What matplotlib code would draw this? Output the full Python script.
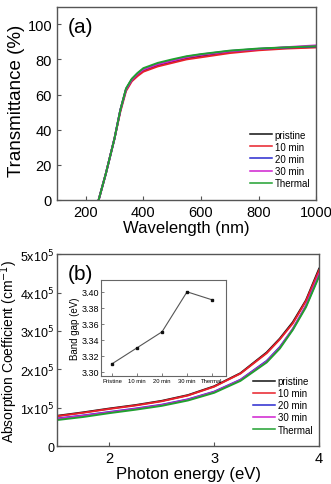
import matplotlib
matplotlib.use("Agg")
import matplotlib.pyplot as plt
from matplotlib.ticker import FuncFormatter, MultipleLocator

plt.rcParams['font.family'] = ['Liberation Sans', 'DejaVu Sans']

# series names and colours
labels = ["pristine", "10 min", "20 min", "30 min", "Thermal"]
colors = ["#111111", "#e8202a", "#2a2ad0", "#d020d0", "#20a030"]

# (a) transmittance
wavelength = [245, 270, 300, 320, 340, 360, 380, 400, 450, 500, 550, 600, 700, 800, 900, 1000]
trans_pristine = [0, 15, 35, 51, 63, 68.5, 71.5, 73.5, 76.5, 78.5, 80.5, 82.0, 84.3, 85.8, 86.6, 87.2]
trans_10 = [0, 15, 35, 50, 62, 67.5, 70.5, 73.0, 76.0, 78.0, 80.0, 81.2, 83.6, 85.2, 86.2, 86.8]
trans_20 = [0, 15, 35, 51, 63, 68.5, 72.0, 74.5, 77.5, 79.5, 81.5, 82.8, 84.8, 86.0, 86.8, 87.4]
trans_30 = [0, 15, 35, 51, 63, 68.5, 71.8, 74.2, 77.2, 79.2, 81.2, 82.5, 84.6, 85.9, 87.0, 88.0]
trans_th = [0, 15, 35, 51, 63.5, 69.0, 72.3, 75.0, 78.0, 80.0, 81.8, 83.0, 85.0, 86.2, 86.9, 87.5]

# (b) absorption coefficient (x1e5 cm^-1)
energy = [1.5, 1.75, 2.0, 2.25, 2.5, 2.75, 3.0, 3.25, 3.5, 3.625, 3.75, 3.875, 4.0]
abs_pristine = [0.79, 0.88, 0.98, 1.07, 1.18, 1.33, 1.56, 1.90, 2.44, 2.80, 3.23, 3.80, 4.62]
abs_10 = [0.78, 0.87, 0.97, 1.06, 1.17, 1.32, 1.55, 1.89, 2.42, 2.78, 3.20, 3.78, 4.58]
abs_20 = [0.72, 0.80, 0.89, 0.98, 1.08, 1.22, 1.42, 1.73, 2.22, 2.58, 3.05, 3.65, 4.45]
abs_30 = [0.71, 0.79, 0.88, 0.97, 1.07, 1.21, 1.41, 1.72, 2.20, 2.56, 3.06, 3.66, 4.48]
abs_th = [0.68, 0.76, 0.86, 0.95, 1.05, 1.19, 1.39, 1.70, 2.18, 2.54, 3.03, 3.62, 4.42]

# inset: band gap
samples = ["Pristine", "10 min", "20 min", "30 min", "Thermal"]
band_gap = [3.31, 3.33, 3.35, 3.40, 3.39]

trans = [trans_pristine, trans_10, trans_20, trans_30, trans_th]
absorb = [abs_pristine, abs_10, abs_20, abs_30, abs_th]

fig = plt.figure(figsize=(3.31, 4.85), dpi=100)
spine_col = "#555555"


def style_axes(ax, size=10.5):
    for s in ax.spines.values():
        s.set_color(spine_col)
        s.set_linewidth(1.0)
    ax.tick_params(direction="in", length=3, width=0.8, color=spine_col, labelsize=size)


def add_legend(ax):
    leg = ax.legend(loc="lower right", bbox_to_anchor=(1.0, 0.03), frameon=False, fontsize=7,
                    handlelength=2.3, handletextpad=0.25, labelspacing=0.22, borderaxespad=0.2)
    for h in leg.get_lines():
        h.set_linewidth(1.1)


# panel (a)
ax1 = fig.add_axes([0.172, 0.586, 0.783, 0.398])
for y, c, l in zip(trans, colors, labels):
    ax1.plot(wavelength, y, color=c, lw=1.4, label=l)
ax1.set_xlim(100, 1000)
ax1.set_ylim(0, 110)
ax1.yaxis.set_major_locator(MultipleLocator(20))
ax1.set_xticks([200, 400, 600, 800, 1000])
ax1.set_xlabel("Wavelength (nm)", fontsize=12, labelpad=1)
ax1.set_ylabel("Transmittance (%)", fontsize=13.5)
ax1.yaxis.set_label_coords(-0.122, 0.52)
ax1.text(0.042, 0.87, "(a)", transform=ax1.transAxes, fontsize=15)
style_axes(ax1)
add_legend(ax1)

# panel (b)
ax2 = fig.add_axes([0.172, 0.078, 0.792, 0.396])
for y, c, l in zip(absorb, colors, labels):
    ax2.plot(energy, [v * 1e5 for v in y], color=c, lw=1.4, label=l)
ax2.set_xlim(1.5, 4.0)
ax2.set_ylim(0, 5e5)
ax2.set_xticks([2, 3, 4])
ax2.set_yticks([0, 1e5, 2e5, 3e5, 4e5, 5e5])
ax2.yaxis.set_major_formatter(FuncFormatter(
    lambda v, p: "0" if v == 0 else r"%dx10$^5$" % round(v / 1e5)))
ax2.set_xlabel("Photon energy (eV)", fontsize=12, labelpad=1)
ax2.set_ylabel(r"Absorption Coefficient (cm$^{-1}$)", fontsize=10)
ax2.yaxis.set_label_coords(-0.14, 0.5)
ax2.text(0.042, 0.87, "(b)", transform=ax2.transAxes, fontsize=15)
style_axes(ax2)
ax2.tick_params(axis="y", labelsize=9, pad=2)
ax2.tick_params(axis="x", labelsize=10.5)
add_legend(ax2)

# inset
ax3 = fig.add_axes([0.305, 0.223, 0.378, 0.198])
ax3.plot(range(len(samples)), band_gap, color="#555555", lw=0.8, marker="s", ms=1.8,
         mfc="#111111", mec="#111111")
ax3.set_xlim(-0.44, 4.56)
ax3.set_ylim(3.295, 3.415)
ax3.set_xticks(range(len(samples)))
ax3.set_xticklabels(samples)
ax3.set_yticks([3.30, 3.32, 3.34, 3.36, 3.38, 3.40])
ax3.yaxis.set_major_formatter(FuncFormatter(lambda v, p: "%.2f" % v))
ax3.set_ylabel("Band gap (eV)", fontsize=7, labelpad=1)
for s in ax3.spines.values():
    s.set_color("#666666")
    s.set_linewidth(0.8)
ax3.tick_params(direction="in", length=2, width=0.6, color="#666666", pad=1.5)
ax3.tick_params(axis="x", labelsize=4.2)
ax3.tick_params(axis="y", labelsize=6.5)

plt.savefig("out.png", dpi=100)
